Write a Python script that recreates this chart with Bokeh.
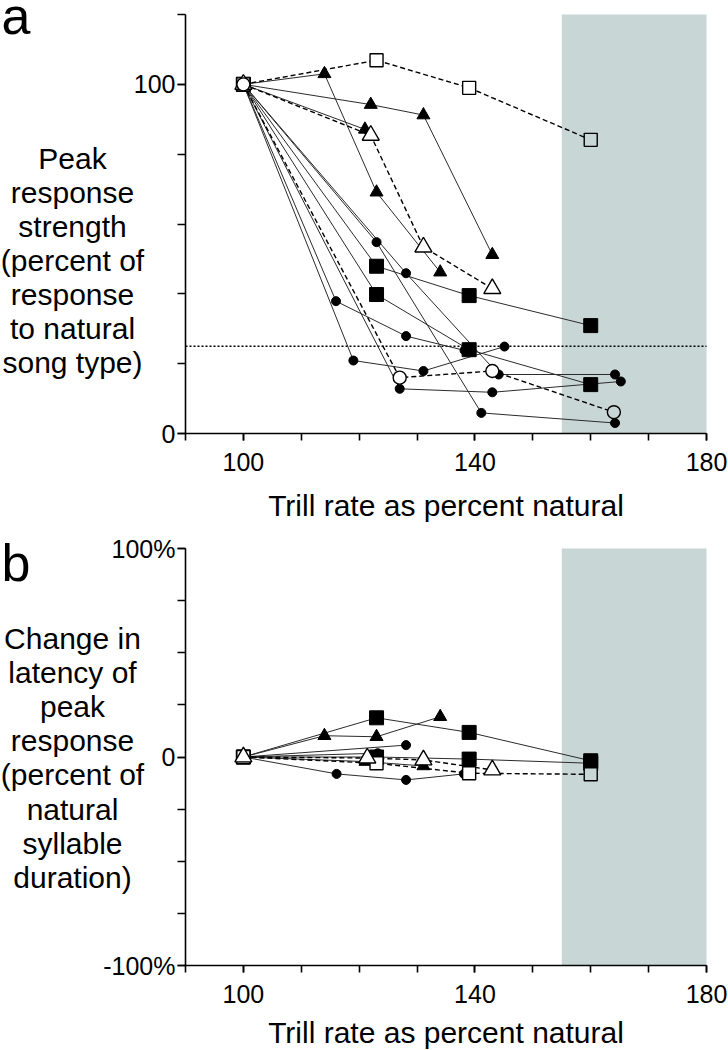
from bokeh.plotting import figure
from bokeh.models import Range1d, FixedTicker, BoxAnnotation, ColumnDataSource
from bokeh.layouts import column
from bokeh.core.properties import value
from bokeh.embed import file_html
from bokeh.resources import INLINE

# ---------------- data: panel a (peak response strength, % of natural) -------------
a_osq_x = [100, 123, 139, 160];      a_osq_y = [100, 106.9, 99.0, 84.1]
a_tri1_x = [100, 114, 123, 134];     a_tri1_y = [100, 103.0, 69.1, 46.2]
a_tri2_x = [100, 122, 131.1, 143];   a_tri2_y = [100, 94.2, 91.2, 51.2]
a_tri3_x = [100, 121];               a_tri3_y = [100, 87.1]
a_otri_x = [100, 122, 131.1, 143];   a_otri_y = [100, 85.4, 53.4, 41.5]
a_sq1_x = [100, 123, 139, 160];      a_sq1_y = [100, 47.9, 39.5, 30.9]
a_sq2_x = [100, 123, 139, 160];      a_sq2_y = [100, 39.8, 24.0, 14.0]
a_c1_x = [100, 123, 141.1, 164.2];   a_c1_y = [100, 54.8, 5.9, 3.0]
a_c2_x = [100, 128.1, 144.1, 164.2]; a_c2_y = [100, 45.9, 16.9, 16.9]
a_c3_x = [100, 116, 128.1, 138.2];   a_c3_y = [100, 37.9, 27.9, 23.8]
a_c4_x = [100, 119, 131.1, 145.1];   a_c4_y = [100, 20.9, 17.9, 24.9]
a_c5_x = [100, 127, 143, 165.2];     a_c5_y = [100, 12.8, 11.8, 14.9]
a_oc_x = [100, 127, 143, 164];       a_oc_y = [100, 16.0, 17.9, 6.1]
a_threshold = 25

# ---------------- data: panel b (change in latency, %) ----------------------------
b_osq_x = [100, 123, 139, 160];      b_osq_y = [0, -3.0, -7.8, -8.3]
b_tri1_x = [100, 114, 123, 134];     b_tri1_y = [0, 10.2, 9.7, 19.3]
b_tri2_x = [100, 121.1, 131.1];      b_tri2_y = [0, -2.2, -4.3]
b_otri_x = [100, 121.4, 131.1, 143]; b_otri_y = [0, -0.5, -1.4, -6.2]
b_sq1_x = [100, 123, 139, 160];      b_sq1_y = [0, 18.8, 11.8, -1.8]
b_sq2_x = [100, 123, 139, 160];      b_sq2_y = [0, 0.0, -1.0, -3.0]
b_c1_x = [100, 123.2];               b_c1_y = [0, 1.8]
b_c2_x = [100, 128.1];               b_c2_y = [0, 5.7]
b_c3_x = [100, 116.1, 128.1, 138.1]; b_c3_y = [0, -8.1, -11.0, -8.1]

# ---------------- axes ----------------
x_lo, x_hi = 90, 180
a_y_lo, a_y_hi = 0, 120
b_y_lo, b_y_hi = -100, 100
shade_from, shade_to = 155, 180
x_major = [100, 140, 180]
x_minor = [90, 100, 110, 120, 130, 140, 150, 160, 170, 180]
a_y_major = [0, 100]
a_y_minor = [0, 20, 40, 60, 80, 100, 120]
b_y_major = [-100, 0, 100]
b_y_minor = [-100, -75, -50, -25, 0, 25, 50, 75, 100]
b_y_labels = {-100: "-100%", 0: "0", 100: "100%"}

a_title_lines = ["Peak", "response", "strength", "(percent of", "response",
                 "to natural", "song type)"]
b_title_lines = ["Change in", "latency of", "peak", "response", "(percent of",
                 "natural", "syllable", "duration)"]
x_title = "Trill rate as percent natural"

FONT = "Liberation Sans"
SHADE = "#c9d6d6"
W = 728
SPLIT = 530          # page row where panel b's figure starts

MARK = {
    "circle":    dict(marker="circle", size=9, filled=True),
    "ocircle":   dict(marker="circle", size=13, filled=False),
    "square":    dict(marker="square", size=14, filled=True),
    "osquare":   dict(marker="square", size=13, filled=False),
    "triangle":  dict(marker="triangle", size=13, filled=True),
    "otriangle": dict(marker="triangle", size=17, filled=False),
}

# plot-area placement (pixels)
FR_LEFT, FR_RIGHT = 185, 706


class Panel:
    def __init__(self, top, height, y_lo, y_hi, fr_top, fr_bottom):
        # fr_top / fr_bottom in page pixels; top = page row of the figure
        self.top = top
        self.sx = (FR_RIGHT - FR_LEFT) / (x_hi - x_lo)
        self.sy = (fr_bottom - fr_top) / (y_hi - y_lo)
        self.fr_bottom = fr_bottom
        self.y_lo = y_lo
        xr = Range1d(x_lo - FR_LEFT / self.sx, x_hi + (W - FR_RIGHT) / self.sx)
        yr = Range1d(y_lo - (top + height - fr_bottom) / self.sy,
                     y_hi + (fr_top - top) / self.sy)
        p = figure(width=W, height=height, x_range=xr, y_range=yr,
                   output_backend="svg", toolbar_location=None,
                   min_border_left=0, min_border_right=0, min_border_top=0,
                   min_border_bottom=0)
        p.outline_line_color = None
        p.xgrid.visible = False
        p.ygrid.visible = False
        p.add_layout(BoxAnnotation(left=shade_from, right=shade_to, bottom=y_lo, top=y_hi,
                                   fill_color=SHADE, fill_alpha=1.0, line_color=None,
                                   level="underlay"))
        for ax in (p.xaxis[0], p.yaxis[0]):
            ax.axis_line_width = 1.6
            ax.axis_line_color = "black"
            ax.major_tick_line_width = 1.6
            ax.minor_tick_line_width = 1.6
            ax.major_tick_line_color = "black"
            ax.minor_tick_line_color = "black"
            ax.major_tick_in = 0
            ax.minor_tick_in = 0
            ax.major_label_text_font = FONT
            ax.major_label_text_font_size = "25px"
            ax.major_label_text_color = "black"
        p.xaxis.fixed_location = y_lo
        p.xaxis.bounds = (x_lo, x_hi)
        p.yaxis.fixed_location = x_lo
        p.yaxis.bounds = (y_lo, y_hi)
        p.xaxis.major_tick_out = 7
        p.xaxis.minor_tick_out = 7
        p.xaxis.major_label_standoff = 12
        p.yaxis.major_tick_out = 8
        p.yaxis.minor_tick_out = 8
        p.yaxis.major_label_standoff = 2
        p.xaxis.ticker = FixedTicker(ticks=x_major, minor_ticks=x_minor)
        self.p = p

    def px(self, sx):   # page column -> data x
        return x_lo + (sx - FR_LEFT) / self.sx

    def py(self, sy):   # page row -> data y
        return self.y_lo + (self.fr_bottom - sy) / self.sy

    def text(self, sx, sy, t, size, align="center"):
        self.p.text(x=[self.px(sx)], y=[self.py(sy)], text=[t], text_align=align,
                    text_baseline="middle", text_font=value(FONT),
                    text_font_size=value(size), text_color="black")


def draw(p, series):
    for xs, ys, kind, dashed in series:
        if dashed:
            p.line(xs, ys, line_color="black", line_width=1.4, line_dash="5 3")
        else:
            p.line(xs, ys, line_color="#2b2b2b", line_width=1.0)
    for xs, ys, kind, dashed in series:
        m = MARK[kind]
        if m["filled"]:
            fills = ["black"] * len(xs)
            lw = 1.0
        else:
            fills = [SHADE if x >= shade_from else "white" for x in xs]
            lw = 1.4
        src = ColumnDataSource(dict(x=xs, y=ys, f=fills))
        p.scatter("x", "y", source=src, marker=m["marker"], size=m["size"],
                  fill_color="f", line_color="black", line_width=lw)


# ---------------- panel a ----------------
A = Panel(0, SPLIT, a_y_lo, a_y_hi, 14, 433)
pa = A.p
pa.yaxis.ticker = FixedTicker(ticks=a_y_major, minor_ticks=a_y_minor)
pa.line([x_lo, x_hi], [a_threshold, a_threshold], line_color="black",
        line_width=1.5, line_dash="2 2")
draw(pa, [
    (a_c1_x, a_c1_y, "circle", False),
    (a_c2_x, a_c2_y, "circle", False),
    (a_c3_x, a_c3_y, "circle", False),
    (a_c4_x, a_c4_y, "circle", False),
    (a_c5_x, a_c5_y, "circle", False),
    (a_sq1_x, a_sq1_y, "square", False),
    (a_sq2_x, a_sq2_y, "square", False),
    (a_tri1_x, a_tri1_y, "triangle", False),
    (a_tri2_x, a_tri2_y, "triangle", False),
    (a_tri3_x, a_tri3_y, "triangle", False),
    (a_osq_x, a_osq_y, "osquare", True),
    (a_otri_x, a_otri_y, "otriangle", True),
    (a_oc_x, a_oc_y, "ocircle", True),
])
for i, t in enumerate(a_title_lines):
    A.text(72, 158 + 34 * i, t, "30px")
A.text((FR_LEFT + FR_RIGHT) / 2, 505, x_title, "30px")
A.text(1, 15, "a", "52px", align="left")

# ---------------- panel b ----------------
B = Panel(SPLIT, 1050 - SPLIT, b_y_lo, b_y_hi, 548, 965)
pb = B.p
pb.yaxis.ticker = FixedTicker(ticks=b_y_major, minor_ticks=b_y_minor)
pb.yaxis.major_label_overrides = b_y_labels
draw(pb, [
    (b_c1_x, b_c1_y, "circle", False),
    (b_c2_x, b_c2_y, "circle", False),
    (b_c3_x, b_c3_y, "circle", False),
    (b_tri1_x, b_tri1_y, "triangle", False),
    (b_tri2_x, b_tri2_y, "triangle", False),
    (b_sq2_x, b_sq2_y, "square", False),
    (b_sq1_x, b_sq1_y, "square", False),
    (b_osq_x, b_osq_y, "osquare", True),
    (b_otri_x, b_otri_y, "otriangle", True),
])
for i, t in enumerate(b_title_lines):
    B.text(72, 638 + 34.1 * i, t, "30px")
B.text((FR_LEFT + FR_RIGHT) / 2, 1032, x_title, "30px")
B.text(1, 562, "b", "52px", align="left")

layout = column(pa, pb)
open("out.html", "w").write(file_html(layout, INLINE))
